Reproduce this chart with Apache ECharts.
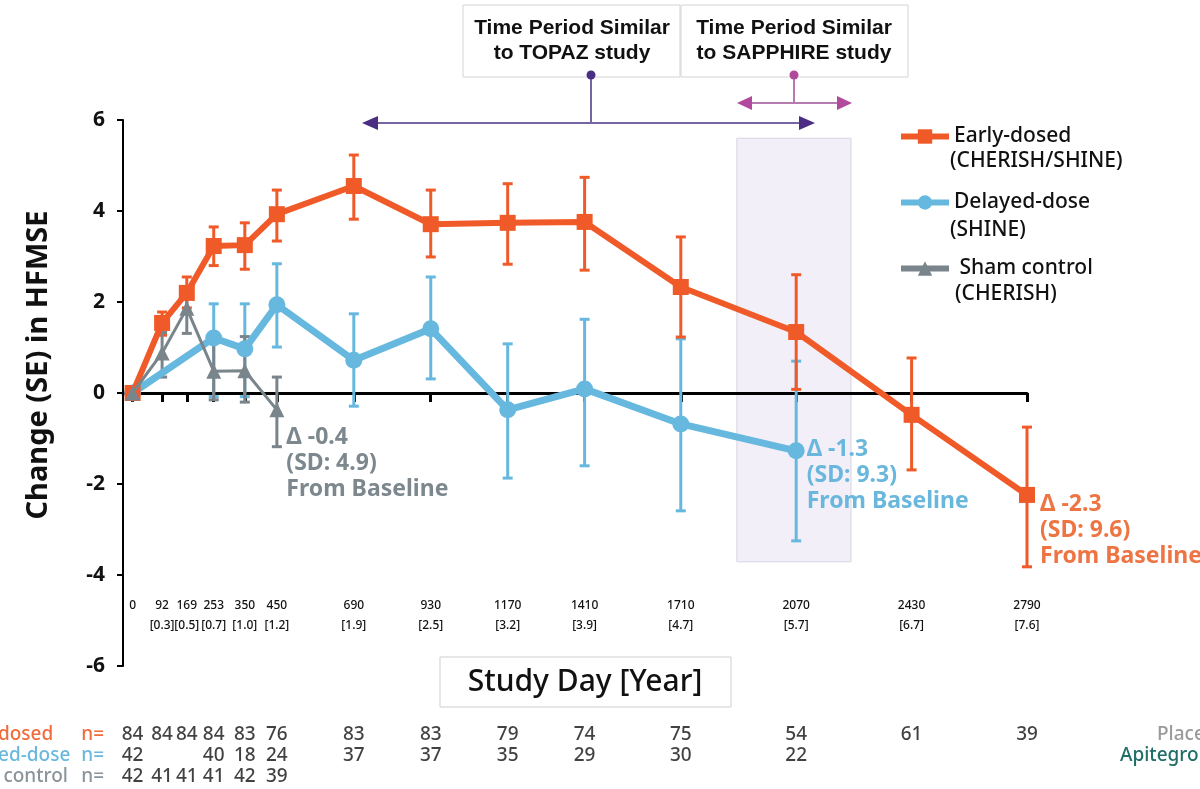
<!DOCTYPE html>
<html><head><meta charset="utf-8">
<script src="https://cdn.jsdelivr.net/npm/echarts@6/dist/echarts.min.js"></script>
<style>html,body{margin:0;padding:0;background:#fff}#c{width:1200px;height:789px}</style>
</head><body><div id="c"></div>
<script>
// ---- data ----
const days = [0,92,169,253,350,450,690,930,1170,1410,1710,2070,2430,2790];
const yearLabels = ['', '[0.3]','[0.5]','[0.7]','[1.0]','[1.2]','[1.9]','[2.5]','[3.2]','[3.9]','[4.7]','[5.7]','[6.7]','[7.6]'];

const earlyDays = [0,92,169,253,350,450,690,930,1170,1410,1710,2070,2430,2790];
const earlyMean = [0,1.54,2.2,3.23,3.25,3.93,4.55,3.71,3.74,3.76,2.33,1.34,-0.48,-2.24];
const earlyHigh = [0,1.78,2.55,3.65,3.74,4.46,5.23,4.46,4.6,4.74,3.43,2.6,0.77,-0.75];
const earlyLow  = [0,1.27,1.87,2.8,2.72,3.34,3.82,2.99,2.83,2.7,1.23,0.08,-1.69,-3.82];

const delayedDays = [0,253,350,450,690,930,1170,1410,1710,2070];
const delayedMean = [0,1.21,0.97,1.94,0.72,1.41,-0.37,0.09,-0.68,-1.27];
const delayedHigh = [0,1.96,1.96,2.84,1.74,2.55,1.08,1.62,1.19,0.7];
const delayedLow  = [0,-0.08,-0.08,1.01,-0.29,0.31,-1.87,-1.6,-2.59,-3.25];

const shamDays = [0,92,169,253,350,450];
const shamMean = [0,0.88,1.86,0.48,0.49,-0.37];
const shamHigh = [0,1.33,2.24,1.16,1.24,0.35];
const shamLow  = [0,0.35,1.31,-0.15,-0.2,-1.18];

const rowNames = ['Early-dosed','Delayed-dose','Sham control'];
const nEarlyDays = [0,92,169,253,350,450,690,930,1170,1410,1710,2070,2430,2790];
const nEarly = [84,84,84,84,83,76,83,83,79,74,75,54,61,39];
const nDelayedDays = [0,253,350,450,690,930,1170,1410,1710,2070];
const nDelayed = [42,40,18,24,37,37,35,29,30,22];
const nShamDays = [0,92,169,253,350,450];
const nSham = [42,41,41,41,42,39];

const highlightDays = [1885, 2241];
const highlightY = [5.6, -3.71];

// ---- styling ----
const F = '"Noto Sans", "DejaVu Sans", sans-serif';
const FA = '"Liberation Sans", Arial, sans-serif';
const C_E = '#f05a28', C_D = '#67b8de', C_S = '#79848b';

const pts = (xs, ys) => xs.map((x,i)=>[x, ys[i]]);
function withEndLabel(p, label){ return p.map((v,i)=> i===p.length-1 ? {value:v, label:label} : v); }

function errSeries(xs, lo, hi, color, cap, lw, z){
  return {
    type:'custom', xAxisIndex:0, yAxisIndex:0, silent:true, z:z,
    data: xs.map((x,i)=>[x, lo[i], hi[i]]),
    renderItem(params, api){
      const x = api.value(0);
      if (api.value(1) === api.value(2)) return {type:'group', children:[]};
      const a = api.coord([x, api.value(1)]), b = api.coord([x, api.value(2)]);
      const h = cap/2, st = {stroke:color, lineWidth:lw};
      return {type:'group', children:[
        {type:'line', shape:{x1:a[0],y1:a[1],x2:b[0],y2:b[1]}, style:st},
        {type:'line', shape:{x1:a[0]-h,y1:a[1],x2:a[0]+h,y2:a[1]}, style:st},
        {type:'line', shape:{x1:b[0]-h,y1:b[1],x2:b[0]+h,y2:b[1]}, style:st}
      ]};
    }
  };
}

function endLabel(text, color, dist, dy){
  return {show:true, position:'right', distance:dist, align:'left', verticalAlign:'top', offset:[0,dy],
    formatter:text, color:color, fontSize:23, fontWeight:'bold', lineHeight:26, fontFamily:F};
}

const tableData = [];
nEarlyDays.forEach((d,i)=>tableData.push([d,0,nEarly[i]]));
nDelayedDays.forEach((d,i)=>tableData.push([d,1,nDelayed[i]]));
nShamDays.forEach((d,i)=>tableData.push([d,2,nSham[i]]));

const rowColors = ['#ef6c3c', '#6ab8dd', '#8a949a'];
const W = 500;

const chart = echarts.init(document.getElementById('c'));
chart.setOption({
  animation:false,
  backgroundColor:'#fff',
  grid:[
    {left:123, right:173, top:120, bottom:123, outerBoundsMode:'none', containLabel:false},
    {left:123, right:173, top:724, height:63, outerBoundsMode:'none', containLabel:false}
  ],
  xAxis:[
    {type:'value', gridIndex:0, min:-30, max:2790, z:1.5,
      axisLine:{show:true, onZero:true, lineStyle:{color:'#000', width:3}},
      axisTick:{show:true, customValues:days, length:9, lineStyle:{color:'#000', width:3}},
      axisLabel:{show:false}, splitLine:{show:false}},
    {type:'value', gridIndex:0, min:-30, max:2790, position:'bottom', offset:-78,
      axisLine:{show:false, onZero:false}, axisTick:{show:false}, splitLine:{show:false},
      axisLabel:{show:true, customValues:days, margin:8, fontSize:12, lineHeight:20, color:'#111', fontFamily:F, fontWeight:W,
        formatter:(v)=>{ const i = days.indexOf(v); return yearLabels[i] ? v + '\n' + yearLabels[i] : String(v); }}},
    {type:'value', gridIndex:1, min:-30, max:2790, show:false}
  ],
  yAxis:[
    {type:'value', gridIndex:0, min:-6, max:6, interval:2,
      axisLine:{show:true, onZero:false, lineStyle:{color:'#000', width:2}},
      axisTick:{show:true, length:6, lineStyle:{color:'#000', width:2}},
      splitLine:{show:false},
      axisLabel:{fontSize:21, fontWeight:'bold', color:'#111', margin:18, fontFamily:F},
      name:'Change (SE) in HFMSE', nameLocation:'middle', nameGap:70, nameRotate:90,
      nameTextStyle:{fontSize:29, fontWeight:'bold', color:'#111', fontFamily:F, padding:[0,0,0,56]}},
    {type:'category', gridIndex:1, data:rowNames, inverse:true,
      axisLine:{show:false}, axisTick:{show:false}, splitLine:{show:false},
      axisLabel:{margin:19, fontFamily:F,
        formatter:(v,i)=>'{a'+i+'|'+v+'}{n'+i+'|n=}',
        rich:{
          a0:{color:rowColors[0], fontSize:19, fontWeight:W, width:134, align:'left', fontFamily:F},
          a1:{color:rowColors[1], fontSize:19, fontWeight:W, width:134, align:'left', fontFamily:F},
          a2:{color:rowColors[2], fontSize:19, fontWeight:W, width:134, align:'left', fontFamily:F},
          n0:{color:rowColors[0], fontSize:19, fontWeight:W, fontFamily:F},
          n1:{color:rowColors[1], fontSize:19, fontWeight:W, fontFamily:F},
          n2:{color:rowColors[2], fontSize:19, fontWeight:W, fontFamily:F}
        }}}
  ],
  legend:{
    data:['Early-dosed','Delayed-dose','Sham control'],
    orient:'vertical', left:893, top:121, itemWidth:48, itemHeight:18, itemGap:45,
    lineStyle:{width:6},
    textStyle:{fontSize:21, color:'#111', fontFamily:F, fontWeight:W},
    formatter:(n)=> n==='Sham control' ? ' '+n : n
  },
  series:[
    {type:'custom', name:'band', z:1, silent:true, xAxisIndex:0, yAxisIndex:0,
      data:[[highlightDays[0], highlightY[0], highlightDays[1], highlightY[1]]],
      renderItem(params, api){
        const a = api.coord([api.value(0), api.value(1)]), b = api.coord([api.value(2), api.value(3)]);
        return {type:'rect', shape:{x:a[0], y:a[1], width:b[0]-a[0], height:b[1]-a[1]},
          style:{fill:'#f2eff9', stroke:'#d8d4e2', lineWidth:1}};
      }},
    errSeries(delayedDays, delayedLow, delayedHigh, C_D, 10, 3, 2),
    errSeries(earlyDays, earlyLow, earlyHigh, C_E, 10, 3, 2),
    errSeries(shamDays, shamLow, shamHigh, C_S, 10, 3, 2),
    {type:'line', name:'Delayed-dose', z:3, data:withEndLabel(pts(delayedDays, delayedMean),
        endLabel('Δ -1.3\n(SD: 9.3)\nFrom Baseline', '#69b7dd', 2, -14)),
      symbol:'circle', symbolSize:17, lineStyle:{color:C_D, width:7}, itemStyle:{color:C_D}, label:{show:false}},
    {type:'line', name:'Early-dosed', z:4, data:withEndLabel(pts(earlyDays, earlyMean),
        endLabel('Δ -2.3\n(SD: 9.6)\nFrom Baseline', '#ee7444', 5, -3)),
      symbol:'rect', symbolSize:16, lineStyle:{color:C_E, width:6}, itemStyle:{color:C_E}, label:{show:false}},
    {type:'line', name:'Sham control', z:5, data:withEndLabel(pts(shamDays, shamMean),
        endLabel('Δ -0.4\n(SD: 4.9)\nFrom Baseline', '#7c878e', 2, 15)),
      symbol:'triangle', symbolSize:15, lineStyle:{color:C_S, width:3}, itemStyle:{color:C_S}, label:{show:false}},
    {type:'scatter', xAxisIndex:2, yAxisIndex:1, data:tableData, symbolSize:1, silent:true,
      itemStyle:{color:'rgba(0,0,0,0)'},
      label:{show:true, position:'inside', formatter:(p)=>p.value[2], fontSize:19, fontWeight:W, color:'#111', fontFamily:F}}
  ],
  graphic:[
    {type:'text', left:950, top:151, style:{text:'(CHERISH/SHINE)', fontSize:21, fontWeight:W, fill:'#111', fontFamily:F}},
    {type:'text', left:950, top:220, style:{text:'(SHINE)', fontSize:21, fontWeight:W, fill:'#111', fontFamily:F}},
    {type:'text', left:955, top:284, style:{text:'(CHERISH)', fontSize:21, fontWeight:W, fill:'#111', fontFamily:F}},
    // top boxes
    {type:'rect', shape:{x:463,y:5,width:217,height:72}, style:{fill:'#fff', stroke:'#d4d4d4', lineWidth:1}},
    {type:'rect', shape:{x:681,y:5,width:227,height:72}, style:{fill:'#fff', stroke:'#d4d4d4', lineWidth:1}},
    {type:'text', x:572, y:41, style:{text:'Time Period Similar\nto TOPAZ study', fontSize:21, fontWeight:'bold', fontFamily:FA, align:'center', verticalAlign:'middle', textAlign:'center', textVerticalAlign:'middle', lineHeight:25, fill:'#111'}},
    {type:'text', x:794, y:41, style:{text:'Time Period Similar\nto SAPPHIRE study', fontSize:21, fontWeight:'bold', fontFamily:FA, align:'center', verticalAlign:'middle', textAlign:'center', textVerticalAlign:'middle', lineHeight:25, fill:'#111'}},
    // TOPAZ arrow
    {type:'line', shape:{x1:591,y1:75,x2:591,y2:123}, style:{stroke:'#7565a0', lineWidth:2}},
    {type:'line', shape:{x1:372,y1:123,x2:805,y2:123}, style:{stroke:'#7565a0', lineWidth:2}},
    {type:'polygon', shape:{points:[[362,123],[378,116],[378,130]]}, style:{fill:'#4b2d83'}},
    {type:'polygon', shape:{points:[[815,123],[799,116],[799,130]]}, style:{fill:'#4b2d83'}},
    {type:'circle', shape:{cx:591, cy:75, r:4.5}, style:{fill:'#4b2d83'}},
    // SAPPHIRE arrow
    {type:'line', shape:{x1:794,y1:75,x2:794,y2:103}, style:{stroke:'#b77bb0', lineWidth:2}},
    {type:'line', shape:{x1:748,y1:103,x2:842,y2:103}, style:{stroke:'#b77bb0', lineWidth:2}},
    {type:'polygon', shape:{points:[[737,103],[752,96],[752,110]]}, style:{fill:'#b14a9c'}},
    {type:'polygon', shape:{points:[[852,103],[837,96],[837,110]]}, style:{fill:'#b14a9c'}},
    {type:'circle', shape:{cx:794, cy:75, r:4.5}, style:{fill:'#b14a9c'}},
    // Study Day box
    {type:'rect', shape:{x:440,y:657,width:291,height:50}, style:{fill:'#fff', stroke:'#cfcfcf', lineWidth:1}},
    {type:'text', x:585, y:682, style:{text:'Study Day [Year]', fontSize:30, fontWeight:W, fontFamily:F, fill:'#111', align:'center', verticalAlign:'middle', textAlign:'center', textVerticalAlign:'middle'}},
    // right side group labels (cut off by canvas edge)
    {type:'text', x:1157, y:735, style:{text:'Placebo', fontSize:19, fontWeight:W, fontFamily:F, fill:'#9a9a9a', verticalAlign:'middle', textVerticalAlign:'middle'}},
    {type:'text', x:1120, y:756, style:{text:'Apitegromab', fontSize:19, fontWeight:W, fontFamily:F, fill:'#1f6e68', verticalAlign:'middle', textVerticalAlign:'middle'}}
  ]
});
</script></body></html>
